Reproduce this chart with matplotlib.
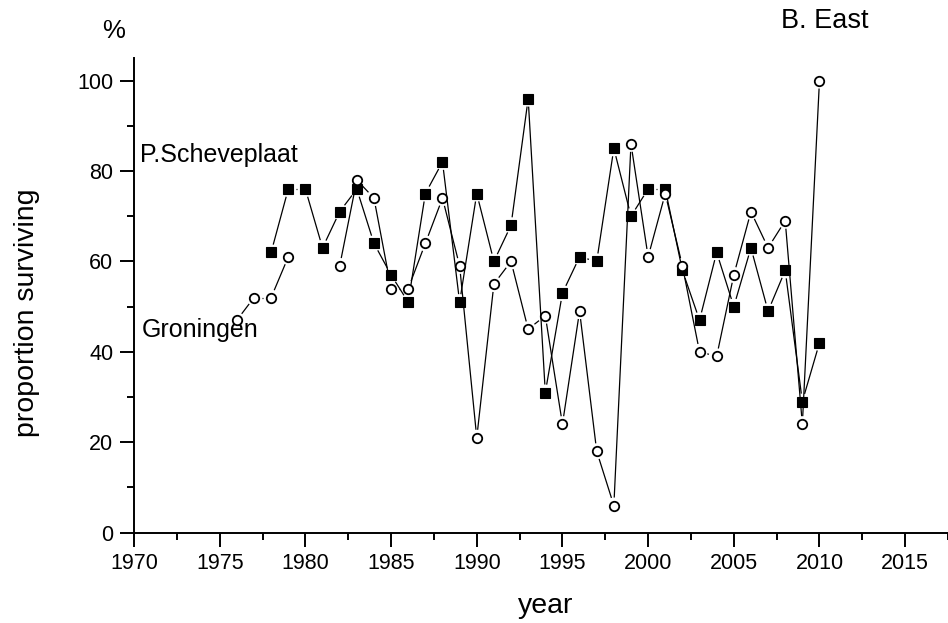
import numpy as np
import matplotlib
matplotlib.use("Agg")
import matplotlib.pyplot as plt
from matplotlib.ticker import MultipleLocator

plt.rcParams['font.family'] = ['Liberation Sans', 'DejaVu Sans']

# Groningen (open circles); no data for 1980-1981
gron_years = np.arange(1976, 2011)
gron_vals = np.array([47, 52, 52, 61, np.nan, np.nan, 59, 78, 74, 54, 54, 64, 74, 59,
                      21, 55, 60, 45, 48, 24, 49, 18, 6, 86, 61, 75, 59, 40, 39, 57,
                      71, 63, 69, 24, 100], dtype=float)

# P.Scheveplaat (filled squares)
schev_years = np.arange(1978, 2011)
schev_vals = np.array([62, 76, 76, 63, 71, 76, 64, 57, 51, 75, 82, 51, 75, 60, 68, 96,
                       31, 53, 61, 60, 85, 70, 76, 76, 58, 47, 62, 50, 63, 49, 58, 29,
                       42], dtype=float)

fig = plt.figure(figsize=(9.48, 6.23), dpi=100)
ax = fig.add_axes([0.1414, 0.145, 0.8586, 0.762])
ax.set_xlim(1970, 2017.5)
ax.set_ylim(0, 105)


def gapped_line(ax, xs, ys, gap=8):
    # draw connecting segments that stop short of the markers (Origin style)
    tr = ax.transData
    inv = tr.inverted()
    for i in range(len(xs) - 1):
        if np.isnan(ys[i]) or np.isnan(ys[i + 1]):
            continue
        p0 = tr.transform((xs[i], ys[i]))
        p1 = tr.transform((xs[i + 1], ys[i + 1]))
        d = p1 - p0
        L = np.hypot(*d)
        if L <= 2 * gap:
            continue
        u = d / L
        a = inv.transform(p0 + u * gap)
        b = inv.transform(p1 - u * gap)
        ax.plot([a[0], b[0]], [a[1], b[1]], color='black', lw=0.9, zorder=2,
                solid_capstyle='butt')


gapped_line(ax, schev_years, schev_vals)
gapped_line(ax, gron_years, gron_vals)

ax.plot(schev_years, schev_vals, linestyle='none', marker='s', ms=7.5,
        mfc='black', mec='black', mew=0.8, zorder=3)
ax.plot(gron_years, gron_vals, linestyle='none', marker='o', ms=6.8,
        mfc='white', mec='black', mew=1.3, zorder=4)

for s in ['top', 'right']:
    ax.spines[s].set_visible(False)
for s in ['left', 'bottom']:
    ax.spines[s].set_linewidth(1.4)

ax.xaxis.set_major_locator(MultipleLocator(5))
ax.xaxis.set_minor_locator(MultipleLocator(2.5))
ax.yaxis.set_major_locator(MultipleLocator(20))
ax.yaxis.set_minor_locator(MultipleLocator(10))
ax.tick_params(axis='both', which='major', direction='out', length=10, width=1.4,
               labelsize=15.5)
ax.tick_params(axis='x', which='major', pad=5)
ax.tick_params(axis='y', which='major', pad=5)
ax.tick_params(axis='both', which='minor', direction='out', length=5, width=1.4)

fig.text(546 / 948, 1 - 606 / 623, 'year', fontsize=20.5, ha='center', va='center')
fig.text(27 / 948, 1 - 313 / 623, 'proportion surviving', fontsize=20.5,
         rotation=90, ha='center', va='center')

fig.text(114 / 948, 1 - 31 / 623, '%', fontsize=18.5, ha='center', va='center')
fig.text(825 / 948, 1 - 21 / 623, 'B. East', fontsize=19.5, ha='center', va='center')
ax.text(1970.35, 83.6, 'P.Scheveplaat', fontsize=18, ha='left', va='center')
ax.text(1970.45, 44.8, 'Groningen', fontsize=18, ha='left', va='center')

fig.savefig('out.png', dpi=100)
